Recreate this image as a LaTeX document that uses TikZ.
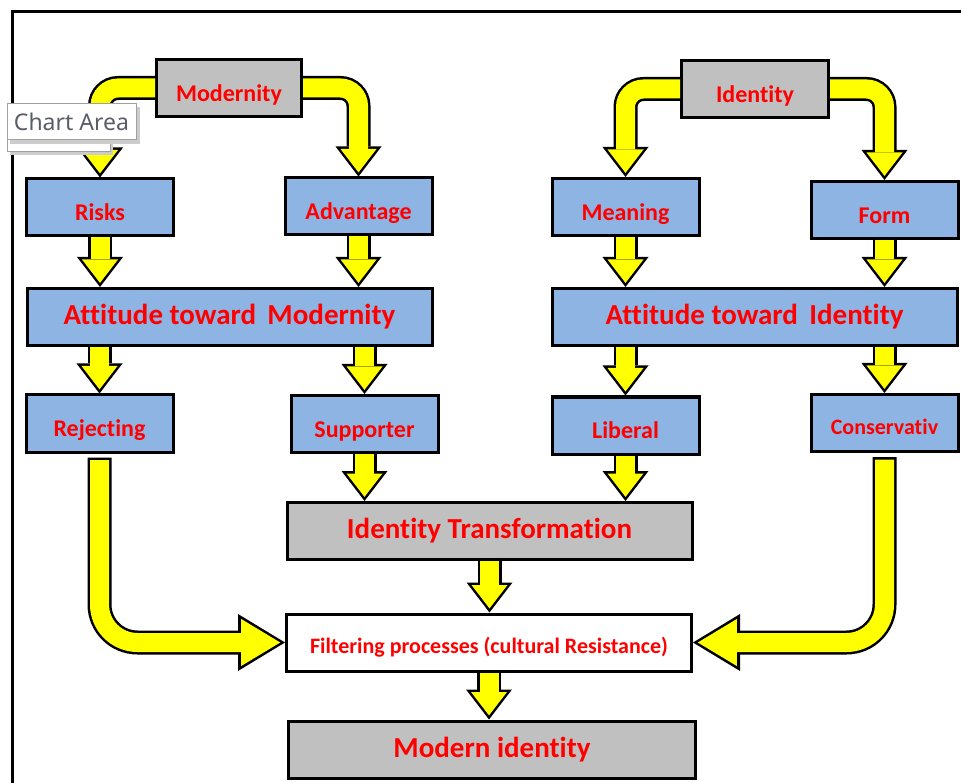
\documentclass[tikz,border=0pt]{standalone}
\usepackage{fontspec}
\setmainfont[Ligatures=NoCommon]{Carlito}
\newfontfamily\tipfont{Noto Sans}
\usepackage{xcolor}
\definecolor{boxgray}{HTML}{C0C0C0}
\definecolor{boxblue}{HTML}{8DB4E2}
\definecolor{labelred}{HTML}{FF0000}
\definecolor{arrowyellow}{HTML}{FFFF00}
\definecolor{tipgray}{HTML}{A0A0A0}
\definecolor{tiptext}{HTML}{595D66}
\usetikzlibrary{positioning,arrows.meta}

\begin{document}
\begin{tikzpicture}[x=1pt, y=-1pt,
  box/.style={draw=black, line width=3pt, text=labelred, inner sep=0pt, minimum height=57pt, text height=26.5pt, text depth=0pt, font=\bfseries\fontsize{24}{28}\selectfont},
  smallbox/.style={box, fill=boxblue, minimum width=147pt},
  widebox/.style={box, minimum width=405pt, text height=, text depth=, font=\bfseries\fontsize{29}{34}\selectfont},
  fatout/.style={draw=black, line width=24pt, -{Triangle[width=46pt,length=30pt,line width=0pt]}},
  fatin/.style={draw=arrowyellow, line width=19pt, shorten >=4.1pt, -{Triangle[width=36pt,length=23.4pt,line width=0pt]}},
  bigout/.style={draw=black, line width=24pt, -{Triangle[width=57pt,length=47pt,line width=0pt]}},
  bigin/.style={draw=arrowyellow, line width=19pt, shorten >=4.8pt, -{Triangle[width=47pt,length=39pt,line width=0pt]}}]
  \useasboundingbox (0,0) rectangle (961,783);
  \draw[line width=3pt] (12,783) -- (12,12) -- (961,12);

  % top level
  \node[box, fill=boxgray, minimum width=145pt] (mod) at (229,88) {Modernity};
  \node[box, fill=boxgray, minimum width=147pt] (ide) at (755,89) {Identity};
  % aspects
  \node[smallbox] (risk) at (100,207.5) {Risks};
  \node[smallbox] (adv) at (358.5,206.5) {Advantage};
  \node[smallbox] (mea) at (625.5,207) {Meaning};
  \node[smallbox] (form) at (884.5,210) {Form};
  % attitudes
  \node[widebox, fill=boxblue] (attm) at (229.5,317) {Attitude toward\, Modernity};
  \node[widebox, fill=boxblue] (atti) at (754.5,317) {Attitude toward\, Identity};
  \node[smallbox] (rej) at (99.5,423.5) {Rejecting};
  \node[smallbox] (sup) at (364.5,424) {Supporter};
  \node[smallbox] (lib) at (625.5,425.5) {Liberal};
  \node[smallbox, text height=23pt, font=\bfseries\fontsize{22}{26}\selectfont] (cons) at (884.5,423) {Conservativ};
  % result
  \node[widebox, fill=boxgray] (idt) at (489.5,531) {Identity Transformation};
  \node[widebox, fill=white, text height=22pt, text depth=0pt, font=\bfseries\fontsize{22}{26}\selectfont] (filt) at (489,642.5) {Filtering processes (cultural Resistance)};
  \node[widebox, fill=boxgray, minimum width=407pt] (modid) at (492,749.5) {Modern identity};

  % yellow arrows
  \foreach \s/\t in {mod.west/risk, mod.east/adv, ide.west/mea, ide.east/form} {
    \draw[fatout, rounded corners=18pt] (\s) -| (\t.north);
    \draw[fatin, rounded corners=18pt] (\s) -| (\t.north);
  }
  \foreach \s/\t in {risk/attm, adv/attm, mea/atti, form/atti, sup/idt, lib/idt, idt/filt, filt/modid} {
    \draw[fatout] (\s.south) -- (\s.south |- \t.north);
    \draw[fatin] (\s.south) -- (\s.south |- \t.north);
  }
  \foreach \s/\t in {attm/rej, attm/sup, atti/lib, atti/cons} {
    \draw[fatout] (\t.north |- \s.south) -- (\t.north);
    \draw[fatin] (\t.north |- \s.south) -- (\t.north);
  }
  \foreach \s/\t in {rej/filt.west, cons/filt.east} {
    \draw[bigout, shorten <=4pt, rounded corners=38pt] (\s.south) |- (\t);
    \draw[bigin, shorten <=6.5pt, rounded corners=38pt] (\s.south) |- (\t);
  }

  % tooltip
  \fill[black!20] (10,131) rectangle (113,155);
  \draw[tipgray, fill=white, line width=1pt] (7,128) rectangle (110,152);
  \fill[black!20] (10,107) rectangle (140,144);
  \node[draw=tipgray, fill=white, line width=1pt, minimum width=129pt, minimum height=36pt, inner sep=0pt, text=tiptext, font=\tipfont\fontsize{23}{26}\selectfont] (tip) at (71.5,122) {Chart Area};
\end{tikzpicture}
\end{document}
